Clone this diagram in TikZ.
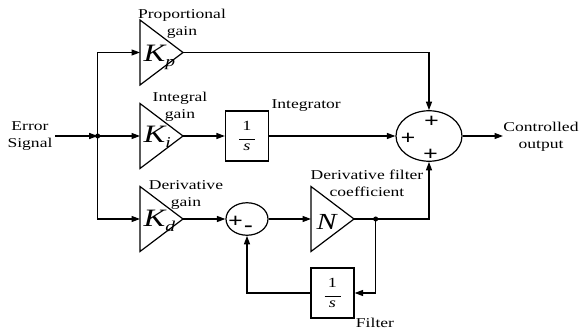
\documentclass[tikz,border=0pt]{standalone}
\usepackage{fontspec}
\setmainfont[FakeStretch=1.3]{Liberation Serif}
\usetikzlibrary{arrows.meta,shapes.geometric}
\newcommand{\gainsym}[2]{{\fontsize{25}{25}\selectfont\itshape #1}\raisebox{-5pt}{\fontsize{15}{15}\selectfont\itshape #2}}
\newcommand{\oneovers}{1\\[-3pt]\rule{16pt}{0.8pt}\\[-1pt]\itshape s}
\begin{document}
\begin{tikzpicture}[x=1pt,y=-1pt,line width=1.2pt,
  >={Triangle[length=8.5pt,width=6pt]},
  lbl/.style={font=\fontsize{13.5}{17}\selectfont,align=center,inner sep=0},
  blk/.style={draw,minimum width=43pt,minimum height=50pt,inner sep=0,align=center,
              font=\fontsize{14}{12}\selectfont},
  sgn/.style={font=\fontsize{20}{20}\selectfont\bfseries,inner sep=0},
  gaintri/.pic={\draw (0,-32.5) -- (43,0) -- (0,32.5) -- cycle;
                \coordinate (-in) at (0,0); \coordinate (-out) at (43,0);}]
\useasboundingbox (0,0) rectangle (582,334);

% gains
\pic (kp) at (140,52.5) {gaintri};
\pic (ki) at (140,136) {gaintri};
\pic (kd) at (140,219) {gaintri};
\pic (n)  at (311,219) {gaintri};

\node[anchor=base west,inner sep=0] (kpl) at ([shift={(3,9.5)}]kp-in) {\gainsym{K}{p}};
\node[anchor=base west,inner sep=0] (kil) at ([shift={(3,7)}]ki-in) {\gainsym{K}{i}};
\node[anchor=base west,inner sep=0] (kdl) at ([shift={(3,8)}]kd-in) {\gainsym{K}{d}};
\node[anchor=base west,inner sep=0] (nl) at ([shift={(5,11)}]n-in) {\fontsize{23}{23}\selectfont\itshape N};

% labels
\node[lbl] (errlbl) at (30,136.5) {Error\\Signal};
\node[lbl] (plbl) at (182,24) {Proportional\\gain};
\node[lbl] (ilbl) at (180,106.5) {Integral\\gain};
\node[lbl] (dlbl) at (186,194.5) {Derivative\\gain};
\node[lbl,anchor=west] (intlbl) at (271,106) {Integrator};
\node[lbl] (nlbl) at (367,183.5) {Derivative filter\\coefficient};
\node[lbl] (flbl) at (375,323) {Filter};
\node[lbl] (outlbl) at (541,136.5) {Controlled\\output};

% blocks
\node[blk] (int) at (247,136) {\oneovers};
\node[blk] (filt) at (332.5,293) {\oneovers};
\node[draw,ellipse,minimum width=66pt,minimum height=50.5pt,inner sep=0] (sum) at (429,136) {};
\node[draw,ellipse,minimum width=42pt,minimum height=32.5pt,inner sep=0] (dsum) at (247,219) {};

% signs
\node[sgn] (s1) at (431.5,121.5) {+};
\node[sgn] (s2) at (408,139) {+};
\node[sgn] (s3) at (430.5,155) {+};
\node[sgn] (s4) at (235.5,221.5) {+};
\node[sgn] (s5) at (248.5,229) {-};

% coordinates
\coordinate (errend) at (55,136);
\coordinate (j1) at (97.7,136);
\coordinate (j2) at (375.7,219);
\coordinate (outend) at (503,136);

% connectors
\draw[->] (errend) -- (j1);
\draw[->] (j1) |- (kp-in);
\draw[->] (j1) -- (ki-in);
\draw[->] (j1) |- (kd-in);
\fill (j1) circle (2.5pt);
\draw[->] (kp-out) -| (sum);
\draw[->] (ki-out) -- (int);
\draw[->] (int) -- (sum);
\draw[->] (sum) -- (outend);
\draw[->] (kd-out) -- (dsum);
\draw[->] (dsum) -- (n-in);
\draw (n-out) -- (j2);
\draw[->] (j2) -| (sum);
\draw[->] (j2) |- (filt);
\draw[->] (filt) -| (dsum);
\fill (j2) circle (2.5pt);
\end{tikzpicture}
\end{document}
